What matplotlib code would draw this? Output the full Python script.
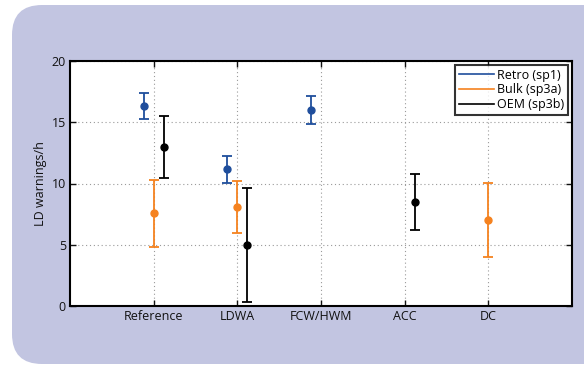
import matplotlib
matplotlib.use("Agg")
import matplotlib.pyplot as plt
from matplotlib.patches import FancyBboxPatch
import numpy as np

plt.rcParams['font.family'] = ['Open Sans', 'DejaVu Sans']

categories = ["Reference", "LDWA", "FCW/HWM", "ACC", "DC"]
series_names = ["Retro (sp1)", "Bulk (sp3a)", "OEM (sp3b)"]
series_colors = ["#1f4e9c", "#f5821f", "#000000"]
# mean values (None = no data)
retro_mean = [16.3, 11.15, 16.0, None, None]
retro_err = [1.07, 1.07, 1.11, None, None]
bulk_mean = [7.57, 8.1, None, None, 7.03]
bulk_err = [2.75, 2.1, None, None, 3.02]
oem_mean = [12.97, 5.0, None, 8.5, None]
oem_err = [2.55, 4.64, None, 2.28, None]
offsets = [-0.12, 0.0, 0.12]

W, H = 584, 366
fig = plt.figure(figsize=(W/100, H/100), dpi=100)
fig.patch.set_facecolor("white")

bgax = fig.add_axes([0, 0, 1, 1], zorder=-5)
bgax.set_xlim(0, W)
bgax.set_ylim(H, 0)
bgax.axis("off")
bgax.add_patch(FancyBboxPatch((12, 5), 620, 359,
                              boxstyle="round,pad=0,rounding_size=30",
                              facecolor="#c2c5e1", edgecolor="none"))

ax = fig.add_axes([70/W, 1 - 306/H, 502/W, 245/H], zorder=1)
ax.set_facecolor("white")

x = np.arange(1, len(categories) + 1)
all_means = [retro_mean, bulk_mean, oem_mean]
all_errs = [retro_err, bulk_err, oem_err]
for i, (m, e) in enumerate(zip(all_means, all_errs)):
    xs = [x[j] + offsets[i] for j in range(len(m)) if m[j] is not None]
    ys = [m[j] for j in range(len(m)) if m[j] is not None]
    es = [e[j] for j in range(len(m)) if m[j] is not None]
    ax.errorbar(xs, ys, yerr=es, fmt='o', color=series_colors[i],
                ecolor=series_colors[i], markersize=5, elinewidth=1.3,
                capsize=3.5, capthick=1.3, zorder=3)
    ax.plot([], [], color=series_colors[i], lw=1.2, label=series_names[i])

ax.set_xlim(0, 6)
ax.set_ylim(0, 20)
ax.set_xticks(x)
ax.set_xticklabels(categories)
ax.set_yticks([0, 5, 10, 15, 20])
ax.grid(True, linestyle=(0, (1, 2.5)), color="#9a9a9a", linewidth=0.8)
ax.tick_params(direction="in", top=True, right=True, length=4, width=1,
               labelsize=9, colors="#111111", pad=3)
for s in ax.spines.values():
    s.set_linewidth(1.5)
    s.set_color("black")
ax.set_ylabel("LD warnings/h", fontsize=9, color="#111111", labelpad=3)

leg = ax.legend(loc="upper right", fontsize=9, frameon=True, fancybox=False,
                borderpad=0.3, handlelength=2.8, handletextpad=0.3,
                labelspacing=0.15, borderaxespad=0.3)
leg.get_frame().set_edgecolor("black")
leg.get_frame().set_linewidth(1.5)

fig.savefig("out.png", dpi=100)
